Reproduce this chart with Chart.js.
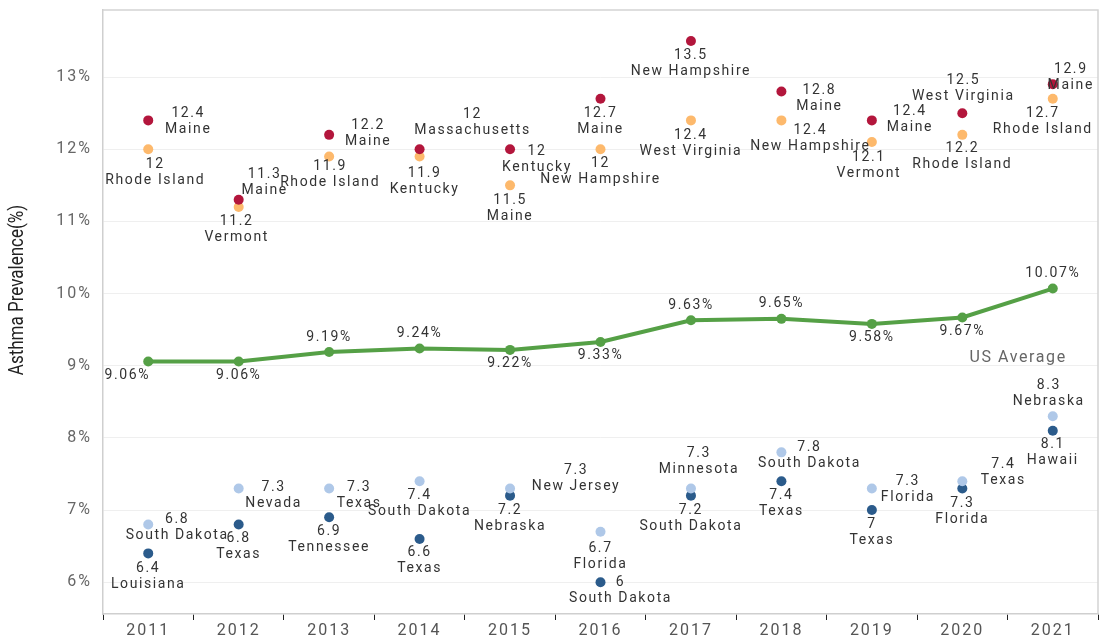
<html>
<head>
<script src="https://cdn.jsdelivr.net/npm/chart.js@4.4.0/dist/chart.umd.min.js"></script>
<style>
  body { margin: 0; background: #fff; }
  #wrap { width: 1103px; height: 639px; }
</style>
</head>
<body>
<div id="wrap"><canvas id="asthma"></canvas></div>
<script>
// years on the x axis
var years = ['2011','2012','2013','2014','2015','2016','2017','2018','2019','2020','2021'];

// highest state each year
var highestVals = [12.4, 11.3, 12.2, 12, 12, 12.7, 13.5, 12.8, 12.4, 12.5, 12.9];
var highestStates = ['Maine','Maine','Maine','Massachusetts','Kentucky','Maine','New Hampshire','Maine','Maine','West Virginia','Maine'];

// second highest
var secondHighVals = [12, 11.2, 11.9, 11.9, 11.5, 12, 12.4, 12.4, 12.1, 12.2, 12.7];
var secondHighStates = ['Rhode Island','Vermont','Rhode Island','Kentucky','Maine','New Hampshire','West Virginia','New Hampshire','Vermont','Rhode Island','Rhode Island'];

// US average
var usAverage = [9.06, 9.06, 9.19, 9.24, 9.22, 9.33, 9.63, 9.65, 9.58, 9.67, 10.07];

// second lowest
var secondLowVals = [6.8, 7.3, 7.3, 7.4, 7.3, 6.7, 7.3, 7.8, 7.3, 7.4, 8.3];
var secondLowStates = ['South Dakota','Nevada','Texas','South Dakota','New Jersey','Florida','Minnesota','South Dakota','Florida','Texas','Nebraska'];

// lowest
var lowestVals = [6.4, 6.8, 6.9, 6.6, 7.2, 6, 7.2, 7.4, 7, 7.3, 8.1];
var lowestStates = ['Louisiana','Texas','Tennessee','Texas','Nebraska','South Dakota','South Dakota','Texas','Texas','Florida','Hawaii'];

var yTickValues = [6, 7, 8, 9, 10, 11, 12, 13];
var yTitle = 'Asthma Prevalence(%)';

// label placement (dx, dy of first text line from the dot) - styling only
var highestOffsets = [[40,-7],[26,-25],[39,-9],[53,-35],[27,2],[0,15],[0,14],[38,-1],[38,-9],[1,-33],[18,-15]];
var secondHighOffsets = [[7,15],[-2,14],[1,10],[5,17],[0,15],[0,14],[0,15],[29,10],[-3,15],[0,14],[-10,15]];
var usOffsets = [[-21,14],[0,14],[0,-15],[0,-15],[0,14],[0,14],[0,-15],[0,-15],[0,14],[0,14],[0,-15]];
var secondLowOffsets = [[29,-5],[35,-1],[30,-1],[0,14],[66,-18],[0,17],[8,-35],[28,-5],[36,-7],[41,-17],[-4,-31]];
var lowestOffsets = [[0,15],[0,14],[0,14],[0,14],[0,15],[20,0],[0,15],[0,14],[0,14],[0,15],[0,14]];

var FONT = 'Roboto, "Open Sans", sans-serif';

var spacingPlugin = {
  id: 'spacing',
  beforeLayout: function(chart) { chart.ctx.letterSpacing = '2px'; },
  beforeDraw: function(chart) { chart.ctx.letterSpacing = '2px'; }
};

// top/right frame lines and the narrow rotated axis title
var framePlugin = {
  id: 'frame',
  afterDraw: function(chart) {
    var a = chart.chartArea, ctx = chart.ctx;
    ctx.save();
    ctx.strokeStyle = '#d4d4d4';
    ctx.lineWidth = 1.5;
    ctx.beginPath();
    ctx.moveTo(a.left, a.top);
    ctx.lineTo(a.right, a.top);
    ctx.lineTo(a.right, a.bottom);
    ctx.stroke();

    ctx.letterSpacing = '0px';
    ctx.translate(18, 290);
    ctx.rotate(-Math.PI / 2);
    ctx.scale(1, 1.2);
    ctx.font = '17px ' + FONT;
    ctx.fillStyle = '#222';
    ctx.textAlign = 'center';
    ctx.textBaseline = 'middle';
    ctx.fillText(yTitle, 0, 0);
    ctx.restore();
  }
};

var pointLabels = {
  id: 'pointLabels',
  afterDatasetsDraw: function(chart) {
    var ctx = chart.ctx;
    ctx.save();
    ctx.letterSpacing = '1.6px';
    ctx.font = '14px ' + FONT;
    ctx.fillStyle = '#333';
    ctx.textAlign = 'center';
    ctx.textBaseline = 'middle';
    chart.data.datasets.forEach(function(ds, i) {
      var meta = chart.getDatasetMeta(i);
      meta.data.forEach(function(pt, j) {
        var off = ds.labelOffsets[j];
        var x = pt.x + off[0], y = pt.y + off[1];
        var v = ds.data[j];
        if (ds.percent) {
          ctx.fillText(v.toFixed(2) + '%', x, y);
        } else {
          ctx.fillText(String(v), x, y);
          ctx.fillText(ds.stateNames[j], x, y + 16);
        }
      });
    });
    // series caption for the average line
    var xs = chart.scales.x, ys = chart.scales.y;
    ctx.font = '16px ' + FONT;
    ctx.fillStyle = '#666';
    ctx.textAlign = 'right';
    ctx.fillText('US Average', xs.getPixelForValue(10) + 14, ys.getPixelForValue(9.11));
    ctx.restore();
  }
};

function dotSet(label, vals, states, color, offsets) {
  return {
    label: label,
    data: vals,
    stateNames: states,
    labelOffsets: offsets,
    showLine: false,
    pointRadius: 5,
    pointBorderWidth: 0,
    pointBackgroundColor: color,
    borderColor: color,
    backgroundColor: color
  };
}

var config = {
  type: 'line',
  data: {
    labels: years,
    datasets: [
      {
        label: 'US Average',
        data: usAverage,
        percent: true,
        labelOffsets: usOffsets,
        borderColor: '#55a046',
        backgroundColor: '#55a046',
        borderWidth: 4,
        pointRadius: 5,
        pointBorderWidth: 0,
        pointBackgroundColor: '#55a046',
        tension: 0
      },
      dotSet('Highest', highestVals, highestStates, '#b3163c', highestOffsets),
      dotSet('Second highest', secondHighVals, secondHighStates, '#fdb96c', secondHighOffsets),
      dotSet('Second lowest', secondLowVals, secondLowStates, '#afc8e8', secondLowOffsets),
      dotSet('Lowest', lowestVals, lowestStates, '#2b5b8b', lowestOffsets)
    ]
  },
  options: {
    responsive: true,
    maintainAspectRatio: false,
    animation: false,
    layout: { padding: { top: 10, right: 3, left: 0, bottom: 0 } },
    plugins: {
      legend: { display: false },
      tooltip: { enabled: false }
    },
    scales: {
      x: {
        offset: true,
        grid: { display: true, drawOnChartArea: false, drawTicks: true, tickLength: 6, tickColor: '#222', offset: true },
        border: { color: '#cfcfcf', width: 1.5 },
        ticks: { color: '#555', font: { family: FONT, size: 16 }, padding: 1, maxRotation: 0 },
        afterFit: function(scale) { scale.height = 25; scale.paddingLeft = 0; scale.paddingRight = 0; }
      },
      y: {
        min: 5.56,
        max: 13.93,
        afterBuildTicks: function(scale) {
          scale.ticks = yTickValues.map(function(v) { return { value: v }; });
        },
        afterFit: function(scale) { scale.width = 103; scale.paddingTop = 0; scale.paddingBottom = 0; },
        grid: { color: '#efefef', drawTicks: false },
        border: { color: '#cfcfcf', width: 1.5 },
        ticks: {
          color: '#666',
          font: { family: FONT, size: 16 },
          padding: 11,
          callback: function(v) { return v + '%'; }
        },
        title: { display: false }
      }
    }
  },
  plugins: [spacingPlugin, framePlugin, pointLabels]
};

var chart = new Chart(document.getElementById('asthma'), config);
</script>
</body>
</html>
